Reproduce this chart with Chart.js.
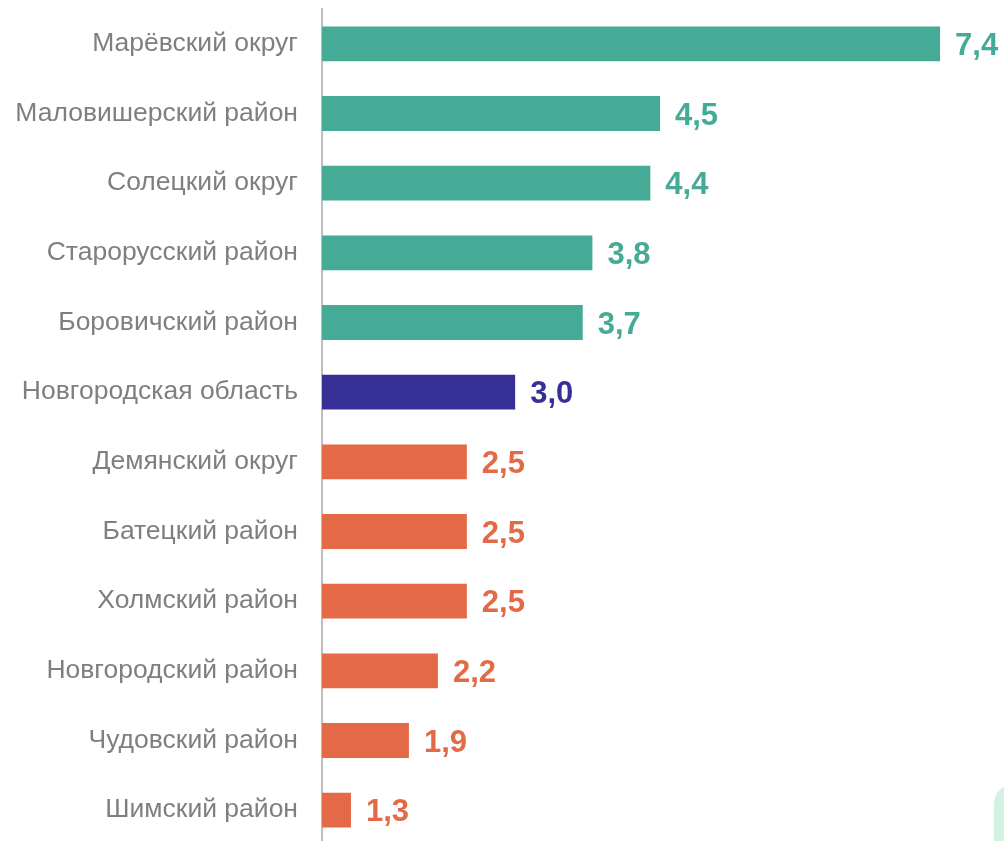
<!DOCTYPE html>
<html lang="ru">
<head>
    <meta charset="UTF-8">
    <title>Районы</title>
    <style>
        html, body { margin: 0; padding: 0; background: #ffffff; overflow: hidden; }
        #wrap { position: relative; width: 1004px; height: 850px; }
        #corner {
            position: absolute; left: 994px; top: 785px; width: 40px; height: 80px;
            background: #d3f2e2; border-radius: 18px;
        }
    </style>
    <script src="https://cdn.jsdelivr.net/npm/chart.js"></script>
</head>
<body>
    <div id="wrap">
        <canvas id="chart" width="1004" height="850"></canvas>
        <div id="corner"></div>
    </div>
    <script>
        var districts = [
            'Марёвский округ',
            'Маловишерский район',
            'Солецкий округ',
            'Старорусский район',
            'Боровичский район',
            'Новгородская область',
            'Демянский округ',
            'Батецкий район',
            'Холмский район',
            'Новгородский район',
            'Чудовский район',
            'Шимский район'
        ];
        var values = [7.4, 4.5, 4.4, 3.8, 3.7, 3.0, 2.5, 2.5, 2.5, 2.2, 1.9, 1.3];
        var groups = ['up', 'up', 'up', 'up', 'up', 'region', 'down', 'down', 'down', 'down', 'down', 'down'];

        var colorOf = { up: '#45aa96', region: '#363096', down: '#e36947' };
        var barColors = groups.map(function(g) { return colorOf[g]; });

        // подписи значений справа от столбцов
        var valueLabels = {
            id: 'valueLabels',
            afterDatasetsDraw: function(chart) {
                var ctx = chart.ctx;
                var meta = chart.getDatasetMeta(0);
                ctx.save();
                ctx.font = 'bold 31px "Liberation Sans", Arial, sans-serif';
                ctx.textAlign = 'left';
                ctx.textBaseline = 'alphabetic';
                meta.data.forEach(function(bar, i) {
                    ctx.fillStyle = barColors[i];
                    ctx.fillText(values[i].toFixed(1).replace('.', ','), bar.x + 15, bar.y + 11);
                });
                ctx.restore();
            }
        };

        new Chart(document.getElementById('chart'), {
            type: 'bar',
            data: {
                labels: districts,
                datasets: [{
                    data: values,
                    backgroundColor: barColors,
                    barPercentage: 0.5,
                    categoryPercentage: 1
                }]
            },
            options: {
                indexAxis: 'y',
                responsive: false,
                animation: false,
                layout: { padding: { top: 9, bottom: 5, right: 6, left: 0 } },
                plugins: { legend: { display: false }, tooltip: { enabled: false } },
                scales: {
                    x: { display: false, min: 1, max: 8 },
                    y: {
                        afterFit: function(scale) {
                            scale.width = 322;
                            scale.paddingTop = 0;
                            scale.paddingBottom = 0;
                        },
                        grid: { display: false, drawTicks: false },
                        border: { display: true, color: '#bfbfbf', width: 2 },
                        ticks: {
                            padding: 24,
                            color: '#7f7f7f',
                            font: { family: '"Liberation Sans", Arial, sans-serif', size: 26.5 }
                        }
                    }
                }
            },
            plugins: [valueLabels]
        });
    </script>
</body>
</html>
